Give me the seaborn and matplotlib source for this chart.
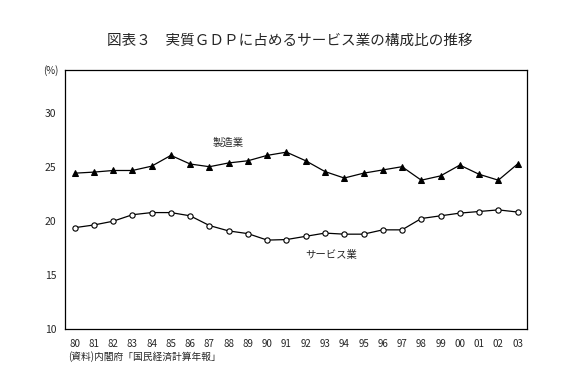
import numpy as np
import pandas as pd
import matplotlib
matplotlib.use("Agg")
import matplotlib.pyplot as plt
import seaborn as sns

sns.set_style("white")
plt.rcParams['font.family'] = ['Noto Sans CJK JP', 'DejaVu Sans']

# --- dados ---
anos = ['80', '81', '82', '83', '84', '85', '86', '87', '88', '89', '90', '91',
        '92', '93', '94', '95', '96', '97', '98', '99', '00', '01', '02', '03']
seizogyo = [24.45, 24.55, 24.7, 24.7, 25.1, 26.1, 25.3, 25.05, 25.4, 25.6, 26.1, 26.4,
            25.6, 24.6, 24.0, 24.45, 24.75, 25.05, 23.8, 24.2, 25.2, 24.35, 23.8, 25.3]
service = [19.4, 19.65, 20.0, 20.6, 20.8, 20.8, 20.5, 19.6, 19.1, 18.85, 18.25, 18.3,
           18.6, 18.9, 18.8, 18.8, 19.2, 19.2, 20.25, 20.5, 20.75, 20.9, 21.05, 20.85]

df = pd.DataFrame({'pos': np.arange(len(anos)), 'ano': anos,
                   'seizo': seizogyo, 'service': service})

fig = plt.figure(figsize=(5.8, 3.69), dpi=100)
ax = fig.add_axes([0.112, 0.108, 0.797, 0.702])

sns.lineplot(data=df, x='pos', y='seizo', ax=ax, color='black', lw=0.9,
             marker='^', markersize=4.5, markerfacecolor='black', markeredgecolor='black')
sns.lineplot(data=df, x='pos', y='service', ax=ax, color='black', lw=0.9,
             marker='o', markersize=3.8, markerfacecolor='white', markeredgecolor='black',
             markeredgewidth=0.8)

ax.set_xlim(-0.5, len(anos) - 0.5)
ax.set_ylim(10, 34)
ax.set_yticks([10, 15, 20, 25, 30])
ax.set_xticks(df['pos'])
ax.set_xticklabels(anos, fontsize=7)
ax.set_xticks(np.arange(0.5, len(anos) - 1, 1), minor=True)
ax.tick_params(axis='x', which='major', length=0, pad=7)
ax.tick_params(axis='x', which='minor', direction='in', length=4, width=0.8)
ax.tick_params(axis='y', direction='in', length=4, width=0.8, labelsize=7.5, pad=6)
ax.set_xlabel('')
ax.set_ylabel('')
for s in ax.spines.values():
    s.set_color('black')
    s.set_linewidth(0.9)

fig.text(0.088, 0.81, '(%)', fontsize=7, ha='center', va='center')
ax.text(8.0, 27.3, '製造業', fontsize=7.5, ha='center', va='center')
ax.text(13.3, 16.9, 'サービス業', fontsize=7.5, ha='center', va='center')

fig.text(0.5, 0.89, '図表３　実質ＧＤＰに占めるサービス業の構成比の推移', fontsize=10.5,
         ha='center', va='center')
fig.text(0.118, 0.035, '(資料)内閣府「国民経済計算年報」', fontsize=7, ha='left', va='center')

fig.savefig('out.png', dpi=100, facecolor='white')
